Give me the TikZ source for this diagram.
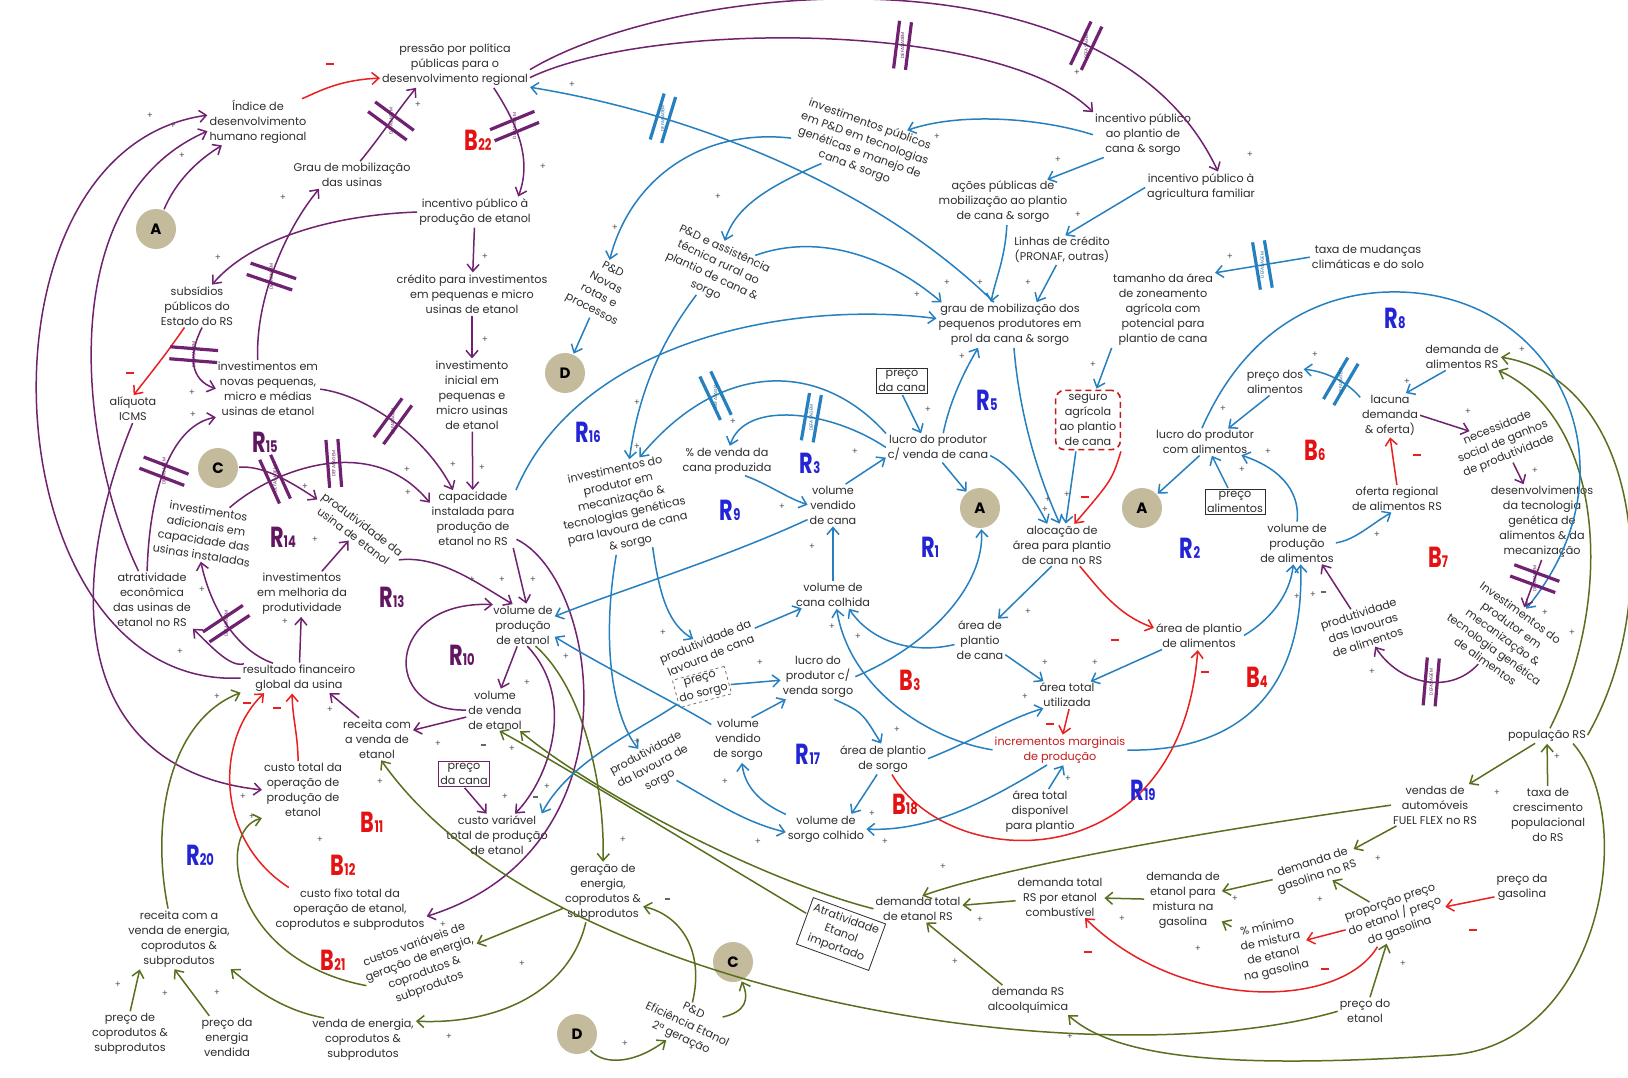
\documentclass[tikz,border=0pt]{standalone}
\usepackage{fontspec}
\setmainfont{Poppins}
\usepackage{graphicx}
\usetikzlibrary{arrows.meta}

\definecolor{purp}{RGB}{112,34,112}
\definecolor{blu}{RGB}{38,128,192}
\definecolor{grn}{RGB}{88,112,30}
\definecolor{redc}{RGB}{232,32,32}
\definecolor{txt}{RGB}{45,45,45}
\definecolor{disc}{RGB}{196,186,156}
\definecolor{lblue}{RGB}{36,36,215}
\definecolor{lpurp}{RGB}{98,22,98}
\definecolor{lred}{RGB}{228,18,18}

\newcommand\cldfont{\fontsize{11.2}{15}\selectfont}
\newcommand\looplabel[2]{\scalebox{0.72}[1]{\fontsize{29}{29}\selectfont\bfseries #1\fontsize{16}{16}\selectfont #2}}

\tikzset{
  v/.style={align=center, font=\cldfont, text=txt, inner sep=1pt},
  box/.style={v, draw=txt, line width=0.8pt, inner sep=2pt},
  circ/.style={circle, fill=disc, minimum size=40pt, inner sep=0pt,
    font=\fontsize{15}{15}\selectfont\bfseries, text=black},
  con/.style={line width=1.5pt, -{Straight Barb[length=7pt,width=12pt]},
    shorten >=1pt, shorten <=1pt},
  pa/.style={con, draw=purp},
  ba/.style={con, draw=blu},
  ga/.style={con, draw=grn},
  ra/.style={con, draw=redc},
  ps/.style={font=\fontsize{9}{9}\selectfont, text=black!65, inner sep=0pt},
  ms/.style={inner sep=0pt, text=redc},
  ds/.style={inner sep=0pt, text=black!60},
  lp/.style={inner sep=0pt},
  pics/lag/.style={code={
    \draw[-, shorten >=0pt, shorten <=0pt, line width=3.2pt, draw=#1]
      (-6,-24) -- (-6,24) (6,-24) -- (6,24);
    \node[rotate=90, inner sep=0pt, font=\fontsize{4.5}{5}\selectfont, text=#1!80!black] {DEFASAGEM};
  }}
}

\begin{document}
\begin{tikzpicture}[x=1pt,y=-1pt]
\fill[white] (0,0) rectangle (1628,1077);
\useasboundingbox (0,0) rectangle (1628,1077);

% ---------------- variables: ethanol plants ----------------
\node[v] (idh) at (258,122) {Índice de\\desenvolvimento\\humano regional};
\node[v] (press) at (455,65) {pressão por política\\públicas para o\\desenvolvimento regional};
\node[v] (grauus) at (352,175) {Grau de mobilização\\das usinas};
\node[v] (incprod) at (475,212) {incentivo público à\\produção de etanol};
\node[v] (subs) at (197,306) {subsídios\\públicos do\\Estado do RS};
\node[v] (cred) at (472,294) {crédito para investimentos\\em pequenas e micro\\usinas de etanol};
\node[v] (invini) at (472,395) {investimento\\inicial em\\pequenas e\\micro usinas\\de etanol};
\node[v] (aliq) at (133,409) {alíquota\\ICMS};
\node[v] (invnov) at (268,389) {investimentos em\\novas pequenas,\\micro e médias\\usinas de etanol};
\node[v,rotate=-9] (invad) at (205,533) {investimentos\\adicionais em\\capacidade das\\usinas instaladas};
\node[v,rotate=-37] (produs) at (358,530) {produtividade da\\usina de etanol};
\node[v] (atrat) at (152,600) {atratividade\\econômica\\das usinas de\\etanol no RS};
\node[v] (invmel) at (302,594) {investimentos\\em melhoria da\\produtividade};
\node[v] (resfin) at (299,678) {resultado financeiro\\global da usina};
\node[v] (cap) at (473,519) {capacidade\\instalada para\\produção de\\etanol no RS};
\node[v] (volprod) at (523,625) {volume de\\produção\\de etanol};
\node[v] (volvend) at (495,710) {volume\\de venda\\de etanol};
\node[v] (recet) at (377,739) {receita com\\a venda de\\etanol};
\node[v] (custot) at (303,790) {custo total da\\operação de\\produção de\\etanol};
\node[v] (custvar) at (497,835) {custo variável\\total de produção\\de etanol};
\node[box,draw=purp] (pcana2) at (464,774) {preço\\da cana};
\node[v] (custfix) at (350,910) {custo fixo total da\\operação de etanol,\\coprodutos e subprodutos};
\node[v] (recen) at (179,939) {receita com a\\venda de energia,\\coprodutos \&\\subprodutos};
\node[v] (pcop) at (130,1034) {preço de\\coprodutos \&\\subprodutos};
\node[v] (pen) at (227,1037) {preço da\\energia\\vendida};
\node[v] (venen) at (363,1040) {venda de energia,\\coprodutos \&\\subprodutos};
\node[v,rotate=20] (custger) at (422,966) {custos variáveis de\\geração de energia,\\coprodutos \&\\subprodutos};
\node[v] (ger) at (603,892) {geração de\\energia,\\coprodutos \&\\subprodutos};
\node[v,rotate=-25] (pded) at (687,1025) {P\&D\\Eficiência Etanol\\2ª geração};
\node[box,rotate=-20,inner sep=4pt] (atrimp) at (841,934) {Atratividade\\Etanol\\importado};

% ---------------- variables: cane & sorghum ----------------
\node[v,rotate=-20] (invpub) at (862,146) {investimentos públicos\\em P\&D em tecnologias\\genéticas e manejo de\\cana \& sorgo};
\node[v] (incpl) at (1143,135) {incentivo público\\ao plantio de\\cana \& sorgo};
\node[v] (acoes) at (1003,202) {ações públicas de\\mobilização ao plantio\\de cana \& sorgo};
\node[v] (incagr) at (1201,187) {incentivo público à\\agricultura familiar};
\node[v] (linhas) at (1062,250) {Linhas de crédito\\(PRONAF, outras)};
\node[v] (grau) at (1010,325) {grau de mobilização dos\\pequenos produtores em\\prol da cana \& sorgo};
\node[v] (taman) at (1163,310) {tamanho da área\\de zoneamento\\agrícola com\\potencial para\\plantio de cana};
\node[v] (taxa) at (1368,257) {taxa de mudanças\\climáticas e do solo};
\node[v,rotate=-28] (pdnov) at (602,290) {P\&D\\Novas\\rotas e\\processos};
\node[v,rotate=-25] (pdass) at (715,270) {P\&D e assistência\\técnica rural ao\\plantio de cana \&\\sorgo};
\node[v] (pvenda) at (727,461) {\% de venda da\\cana produzida};
\node[v,rotate=12] (invprod) at (623,507) {investimentos do\\produtor em\\mecanização \&\\tecnologias genéticas\\para lavoura de cana\\\& sorgo};
\node[box] (pcana) at (902,381) {preço\\da cana};
\node[v] (lucana) at (938,448) {lucro do produtor\\c/ venda de cana};
\node[v] (vvcana) at (833,505) {volume\\vendido\\de cana};
\node[v,draw=redc!85!black,dashed,dash pattern=on 6pt off 4pt,line width=1.6pt,rounded corners=9pt,inner sep=4pt] (seguro) at (1088,420) {seguro\\agrícola\\ao plantio\\de cana};
\node[v] (aloc) at (1062,545) {alocação de\\área para plantio\\de cana no RS};
\node[v] (vccana) at (833,595) {volume de\\cana colhida};
\node[v,rotate=22] (prodcana) at (708,648) {produtividade da\\lavoura de cana};
\node[v,rotate=15,draw=black!55,dashed,line width=0.8pt,inner sep=2pt] (psorgo) at (702,687) {preço\\do sorgo};
\node[v] (lusorgo) at (818,677) {lucro do\\produtor c/\\venda sorgo};
\node[v] (apcana) at (980,640) {área de\\plantio\\de cana};
\node[v] (apalim) at (1199,636) {área de plantio\\de alimentos};
\node[v] (atot) at (1067,695) {área total\\utilizada};
\node[v,rotate=28] (prodsorgo) at (653,767) {produtividade\\da lavoura de\\sorgo};
\node[v] (vvsorgo) at (738,740) {volume\\vendido\\de sorgo};
\node[v] (apsorgo) at (883,759) {área de plantio\\de sorgo};
\node[v,text=redc!85!black] (incr) at (1060,750) {incrementos marginais\\de produção};
\node[v] (vcsorgo) at (826,829) {volume de\\sorgo colhido};
\node[v] (atdisp) at (1040,812) {área total\\disponível\\para plantio};

% ---------------- variables: food ----------------
\node[v] (lucalim) at (1205,442) {lucro do produtor\\com alimentos};
\node[box] (palim) at (1235,502) {preço\\alimentos};
\node[v] (pdalim) at (1275,382) {preço dos\\alimentos};
\node[v] (demal) at (1462,357) {demanda de\\alimentos RS};
\node[v] (lacuna) at (1390,415) {lacuna\\demanda\\\& oferta)};
\node[v,rotate=22] (necess) at (1503,442) {necessidade\\social de ganhos\\de produtividade};
\node[v] (oferta) at (1397,499) {oferta regional\\de alimentos RS};
\node[v] (desenv) at (1542,522) {desenvolvimentos\\da tecnologia\\genética de\\alimentos \& da\\mecanização};
\node[v] (volal) at (1297,543) {volume de\\produção\\de alimentos};
\node[v,rotate=18] (prodlav) at (1363,628) {produtividade\\das lavouras\\de alimentos};
\node[v,rotate=-36] (invfood) at (1503,637) {Investimentos do\\produtor em\\mecanização \&\\tecnologia genética\\de alimentos};

% ---------------- variables: ethanol demand ----------------
\node[v] (demtot) at (918,909) {demanda total\\de etanol RS};
\node[v] (demcomb) at (1060,897) {demanda total\\RS por etanol\\combustível};
\node[v] (demmist) at (1183,900) {demanda de\\etanol para\\mistura na\\gasolina};
\node[v] (demalc) at (1028,1000) {demanda RS\\alcoolquímica};
\node[v] (pop) at (1547,736) {população RS};
\node[v] (vendas) at (1435,805) {vendas de\\automóveis\\FUEL FLEX no RS};
\node[v] (taxcres) at (1548,815) {taxa de\\crescimento\\populacional\\do RS};
\node[v,rotate=18] (demgas) at (1315,870) {demanda de\\gasolina no RS};
\node[v] (pgas) at (1522,887) {preço da\\gasolina};
\node[v,rotate=19] (prop) at (1395,917) {proporção preço\\do etanol / preço\\da gasolina};
\node[v,rotate=12] (pmin) at (1272,949) {\% mínimo\\de mistura\\de etanol\\na gasolina};
\node[v] (petan) at (1365,1011) {preço do\\etanol};

% ---------------- connector circles ----------------
\node[circ] (cA1) at (156,229) {A};
\node[circ] (cA2) at (980,508) {A};
\node[circ] (cA3) at (1142,508) {A};
\node[circ] (cC1) at (218,468) {C};
\node[circ] (cC2) at (733,962) {C};
\node[circ] (cD1) at (565,373) {D};
\node[circ] (cD2) at (577,1034) {D};

% ---------------- links: plants and regional policy ----------------
\draw[ra] (idh.28) .. controls (318,92) and (338,80) .. (press.190);
\draw[pa] (cA1) .. controls (170,195) and (185,168) .. (idh.213);
\draw[pa] (resfin.west) .. controls (-10,690) and (-40,150) .. (idh.172);
\draw[pa] (atrat.115) .. controls (80,450) and (50,200) .. (idh.190);
\draw[pa] (aliq.south) .. controls (60,600) and (80,770) .. (custot.west);
\draw[pa] (grauus.60) .. controls (378,140) and (398,110) .. (press.210) pic[pos=0.55,sloped]{lag=purp};
\draw[pa] (press.330) .. controls (518,125) and (532,160) .. ([xshift=-14pt]incprod.north east) pic[pos=0.35,sloped]{lag=purp};
\draw[pa] (press.350) .. controls (650,20) and (1000,20) .. (incpl.north west) pic[pos=0.62,sloped]{lag=purp};
\draw[pa] (press.356) .. controls (680,-20) and (1110,-60) .. (incagr.40) pic[pos=0.75,sloped]{lag=purp};
\draw[ba] (grau.125) .. controls (880,190) and (700,115) .. (press.south east) pic[pos=0.74,sloped]{lag=blu};
\draw[pa] (incprod.west) .. controls (330,215) and (250,240) .. (subs.55);
\draw[pa] (incprod) -- (cred);
\draw[pa] (cred) -- (invini);
\draw[pa] (invini) -- (cap);
\draw[ra] (subs.240) .. controls (165,355) .. (aliq.north);
\draw[pa] (subs.285) .. controls (188,355) and (190,380) .. (invnov.west) pic[pos=0.35,sloped]{lag=purp};
\draw[pa] (invnov.110) .. controls (255,300) and (285,230) .. (grauus.202) pic[pos=0.45,sloped]{lag=purp};
\draw[pa] (invnov.east) .. controls (365,395) and (425,435) .. (cap.125) pic[pos=0.5,sloped]{lag=purp};
\draw[pa] (invad.55) .. controls (270,472) and (370,430) .. (cap.160) pic[pos=0.28,sloped]{lag=purp} pic[pos=0.55,sloped]{lag=purp};
\draw[pa] (cC1) .. controls (262,466) and (285,478) .. (produs.west);
\draw[pa] (atrat.100) .. controls (150,480) and (175,425) .. (invnov.south west) pic[pos=0.45,sloped]{lag=purp};
\draw[pa] (resfin.150) .. controls (235,650) and (210,605) .. (invad.south) pic[pos=0.5,sloped]{lag=purp};
\draw[pa] (resfin.165) .. controls (230,668) and (210,645) .. (atrat.south east);
\draw[pa] (resfin) -- (invmel);
\draw[pa] (invmel) -- (produs);
\draw[pa] (produs.east) .. controls (440,555) and (480,585) .. (volprod.115);
\draw[pa] (volvend.west) .. controls (380,712) and (385,600) .. (volprod.145);
\draw[pa] (cap.-35) -- (volprod.80);
\draw[pa] (volprod.-105) -- (volvend.75);
\draw[pa] (volvend) -- (recet);
\draw[pa] (recet.130) -- (resfin.334);
\draw[ra] (custot.100) .. controls (298,735) and (292,715) .. (resfin.245);
\draw[ra] (custfix.160) .. controls (215,840) and (215,740) .. (resfin.203);
\draw[ga] (recen.110) .. controls (150,820) and (170,720) .. (resfin.194);
\draw[ga] (custger.west) .. controls (230,960) and (215,830) .. (custot.south west);
\draw[ga] (venen.150) .. controls (280,1010) and (250,985) .. (recen.-30);
\draw[ga] (pcop.north) -- (recen.217);
\draw[ga] (pen.130) -- (recen.260);
\draw[ga] (ger) -- (custger);
\draw[ga] (ger.-120) .. controls (570,990) and (500,1025) .. (venen.20);
\draw[ga] (volprod.-60) .. controls (585,690) and (605,790) .. (ger.north);
\draw[pa] (volprod.-80) .. controls (578,700) and (548,780) .. (custvar.50);
\draw[pa] (pcana2.south) -- (custvar.115);
\draw[pa] (cap.-25) .. controls (600,580) and (640,850) .. (custfix.-5);
\draw[ga] (atrimp) .. controls (700,850) and (570,770) .. (volvend.-80);
\draw[ga] (demtot.west) .. controls (760,880) and (590,790) .. (volvend.-40);
\draw[ga] (petan.west) .. controls (1100,1080) and (550,1000) .. (recet.-80);

% ---------------- links: food ----------------
\draw[ga] (pop.-15) .. controls (1640,820) and (1600,1045) .. (1450,1055) .. controls (1250,1068) and (1120,1062) .. (demalc.-20);
\draw[ga] (pop.east) .. controls (1665,600) and (1640,380) .. (demal.east);
\draw[ga] (pop.70) .. controls (1615,600) and (1605,420) .. (demal.-20);
\draw[ba] (lucalim.105) .. controls (1245,330) and (1320,290) .. (1400,292) .. controls (1560,296) and (1640,470) .. (invfood);
\draw[ba] (demal.220) -- (lacuna.55);
\draw[ba] (lacuna.150) .. controls (1350,385) and (1330,372) .. (pdalim.25) pic[pos=0.45,sloped]{lag=blu};
\draw[ba] (pdalim.250) -- (lucalim.30);
\draw[ba] (palim) -- (lucalim);
\draw[ba] (volal.north) .. controls (1300,495) and (1285,470) .. (lucalim.-20);
\draw[ba] (volal.east) .. controls (1355,540) and (1370,525) .. (oferta.250);
\draw[ra] (oferta.north) -- (lacuna.south);
\draw[pa] (lacuna.east) -- (necess);
\draw[pa] (necess) -- (desenv);
\draw[pa] (desenv.south) -- (invfood.north) pic[pos=0.4,sloped]{lag=purp};
\draw[pa] (invfood) .. controls (1450,695) and (1400,685) .. (prodlav) pic[pos=0.45,sloped]{lag=purp};
\draw[pa] (prodlav) -- (volal.-40);
\draw[ba] (apalim.east) .. controls (1270,620) and (1290,595) .. (volal.-100);
\draw[ba] (incr.east) .. controls (1230,752) and (1305,700) .. (volal.-80);
\draw[ba] (lucalim.250) -- (cA3);

% ---------------- links: cane & sorghum ----------------
\draw[ba] (lucana.-75) -- (cA2);
\draw[ba] (lusorgo.east) .. controls (930,645) and (985,585) .. (cA2);
\draw[ba] (aloc.-115) -- (apcana.50);
\draw[ra] (aloc.-50) .. controls (1100,590) and (1118,615) .. (apalim.170);
\draw[ba] (apcana.-30) -- (atot.150);
\draw[ba] (apalim.-160) -- (atot.30);
\draw[ra] (atot.-80) -- (incr.80);
\draw[ba] (atdisp.70) -- (incr.-75);
\draw[ba] (apsorgo.east) .. controls (975,740) and (1010,718) .. (atot.210);
\draw[ba] (incr.west) .. controls (930,740) and (850,690) .. (vccana.-75);
\draw[ba] (apcana.190) .. controls (910,655) and (870,640) .. (vccana.-40);
\draw[ba] (vccana) -- (vvcana);
\draw[ba] (vvcana.60) -- (lucana.190);
\draw[ba] (pvenda.-40) .. controls (770,485) and (785,497) .. (vvcana.west);
\draw[ba] (pcana.south) -- (lucana.140);
\draw[ba] (lucana.70) .. controls (950,400) and (965,370) .. (grau.215);
\draw[ba] (lucana.-8) .. controls (1010,465) and (1030,490) .. (aloc.125);
\draw[ba] (grau.-80) .. controls (1020,420) and (1040,480) .. (aloc.95);
\draw[ba] ([xshift=-12pt]seguro.south) -- (aloc.80);
\draw[ra] (seguro.south east) .. controls (1112,480) .. (aloc.60);
\draw[ba] (taman.south west) -- (seguro.75);
\draw[ba] (taxa.west) -- (taman.north east) pic[pos=0.5,sloped]{lag=blu};
\draw[ba] (incpl.west) .. controls (1040,118) and (960,112) .. (invpub);
\draw[ba] (incpl.-150) -- (acoes.27);
\draw[ba] (incagr.west) -- (linhas.80);
\draw[ba] (acoes.-80) .. controls (1005,260) and (995,280) .. (grau.131);
\draw[ba] (linhas.-110) -- (grau.40);
\draw[ba] (invpub) .. controls (760,190) and (735,210) .. (pdass);
\draw[ba] (invpub) .. controls (700,128) and (630,180) .. (pdnov);
\draw[ba] (pdnov) -- (cD1);
\draw[ba] (pdass) .. controls (670,330) and (640,380) .. (invprod);
\draw[ba] (pdass) .. controls (820,232) and (890,258) .. (grau.162);
\draw[ba] (cap.north east) .. controls (580,340) and (790,300) .. (grau.175);
\draw[ba] (lucana.165) .. controls (820,360) and (720,360) .. (invprod.60) pic[pos=0.7,sloped]{lag=blu};
\draw[ba] (lucana.180) .. controls (830,410) and (745,400) .. (pvenda.80) pic[pos=0.4,sloped]{lag=blu};
\draw[ba] (invprod.-65) .. controls (660,600) and (670,625) .. (prodcana);
\draw[ba] (invprod.-110) .. controls (600,650) and (615,720) .. (prodsorgo);
\draw[ba] (prodcana) -- (vccana);
\draw[ba] (psorgo) -- (lusorgo);
\draw[ba] (vvsorgo.60) -- (lusorgo.215);
\draw[ba] (vvcana.210) .. controls (720,560) and (620,590) .. (volprod.15);
\draw[ba] (vvsorgo.150) .. controls (680,705) and (600,665) .. (volprod.-20);
\draw[ba] (psorgo) .. controls (640,730) and (570,760) .. (custvar.25);
\draw[ba] (prodsorgo) .. controls (720,805) and (745,822) .. (vcsorgo.185);
\draw[ba] (vcsorgo.160) .. controls (765,805) and (745,790) .. (vvsorgo.-80);
\draw[ba] (lusorgo.-55) .. controls (862,712) .. (apsorgo.95);
\draw[ba] (apsorgo.-110) -- (vcsorgo.30);
\draw[ba] (incr.-130) .. controls (990,800) and (930,832) .. (vcsorgo.east);
\draw[ra] (apsorgo.-60) .. controls (950,875) and (1180,880) .. (apalim.-95);

% ---------------- links: ethanol demand ----------------
\draw[ga] (cD2) .. controls (600,1062) and (628,1068) .. (pded);
\draw[ga] (pded) .. controls (705,950) and (680,915) .. (ger.-20);
\draw[ga] (pded) .. controls (745,1012) and (750,1000) .. (cC2);
\draw[ga] (petan.70) -- (prop);
\draw[ra] (pgas.200) -- (prop);
\draw[ra] (prop) -- (pmin);
\draw[ga] (prop) -- (demgas);
\draw[ga] (pmin) -- (demmist);
\draw[ga] (demgas) -- (demmist);
\draw[ga] (vendas) -- (demgas);
\draw[ga] (pop) -- (vendas);
\draw[ga] (taxcres) -- (pop);
\draw[ga] (vendas.west) .. controls (1200,832) and (1000,868) .. (demtot.75);
\draw[ga] (demcomb) -- (demtot);
\draw[ga] (demmist) -- (demcomb);
\draw[ga] (demalc.150) -- (demtot.-60);
\draw[ra] (prop) .. controls (1340,1010) and (1180,1012) .. (demcomb.-40);

% ---------------- polarity signs ----------------
\foreach \x/\y [count=\i] in {150/116,173/126,182/156,418/105,543/167,218/258,485/257,485/340,
  453/465,482/468,407/470,408/493,283/198,192/393,193/415,305/487,315/540,202/590,180/652,
  285/622,217/697,330/710,472/580,502/580,533/580,527/683,438/744,380/782,243/797,252/817,
  320/840,505/797,443/925,623/840,522/964,449/1037,217/993,165/994,118/985,625/1044,512/749,
  572/85,937/137,1058/160,1077/73,1250/155,1078/215,917/295,947/283,980/283,1028/283,
  718/197,615/228,1230/257,1093/365,637/403,637/447,733/422,782/507,812/547,663/633,566/657,
  760/663,928/410,962/357,855/452,1048/500,1045/510,1067/495,1028/612,832/627,858/637,
  1045/663,1095/663,1025/697,1315/355,1407/382,1223/409,1242/470,1268/452,1377/535,1468/412,
  1535/471,1545/613,1572/633,1372/672,1297/597,1313/595,1522/350,897/730,872/814,885/842,
  1068/779,943/867,980/920,1122/919,955/962,1070/1037,1198/949,637/742,725/782,758/842,
  547/787,1497/793,1557/757,1378/859,1235/899,1320/900,1403/964}
  \node[ps] (pl\i) at (\x,\y) {+};
\foreach \x/\y [count=\i] in {330/64,130/373,247/703,277/708,1417/455,1115/640,1050/724,
  1205/672,1088/952,1473/930,1325/969,1085/497}
  \node[ms] (mi\i) at (\x,\y) {\rule{8pt}{2.4pt}};
\foreach \x/\y [count=\i] in {483/745,535/797,667/899,1323/592}
  \node[ds] (da\i) at (\x,\y) {\rule{5pt}{1.2pt}};

% ---------------- loop labels ----------------
\foreach \x/\y/\c/\a/\b [count=\i] in {478/140/lred/B/22, 588/432/lblue/R/16, 810/463/lblue/R/3,
  730/510/lblue/R/9, 987/400/lblue/R/5, 930/547/lblue/R/1, 1190/548/lblue/R/2, 1395/318/lblue/R/8,
  1315/450/lred/B/6, 1438/557/lred/B/7, 1257/677/lred/B/4, 910/680/lred/B/3, 808/754/lblue/R/17,
  905/804/lred/B/18, 1143/790/lblue/R/19, 265/442/lpurp/R/15, 283/537/lpurp/R/14,
  392/597/lpurp/R/13, 462/655/lpurp/R/10, 372/822/lred/B/11, 343/865/lred/B/12,
  200/855/lblue/R/20, 333/960/lred/B/21}
  \node[lp,text=\c] (lb\i) at (\x,\y) {\looplabel{\a}{\b}};
\end{tikzpicture}
\end{document}
